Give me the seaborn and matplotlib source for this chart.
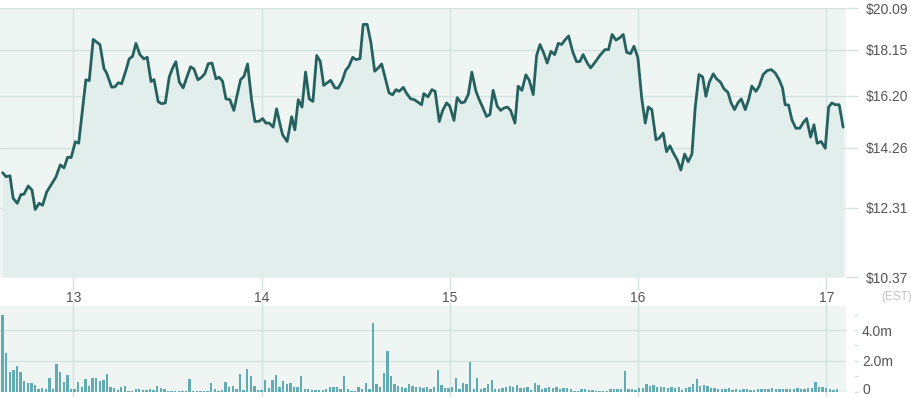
import matplotlib
matplotlib.use("Agg")
import matplotlib.pyplot as plt
import matplotlib.ticker as mticker
import matplotlib.transforms as mtrans
import numpy as np
import seaborn as sns

# price line: time in days, price in dollars
t_day = [12.625, 12.643, 12.664, 12.681, 12.703, 12.722, 12.738, 12.761, 12.781, 12.798,
         12.819, 12.837, 12.859, 12.908, 12.931, 12.951, 12.970, 12.989, 13.011, 13.029,
         13.067, 13.085, 13.106, 13.142, 13.163, 13.177, 13.204, 13.221, 13.239, 13.257,
         13.278, 13.297, 13.315, 13.333, 13.354, 13.375, 13.393, 13.413, 13.429, 13.451,
         13.469, 13.489, 13.510, 13.528, 13.545, 13.563, 13.584, 13.602, 13.623, 13.641,
         13.662, 13.682, 13.699, 13.717, 13.737, 13.758, 13.775, 13.793, 13.811, 13.832,
         13.853, 13.871, 13.889, 13.907, 13.926, 13.947, 13.965, 13.988, 14.006, 14.023,
         14.041, 14.062, 14.080, 14.101, 14.112, 14.136, 14.160, 14.177, 14.195, 14.215,
         14.234, 14.253, 14.273, 14.293, 14.312, 14.330, 14.349, 14.367, 14.390, 14.407,
         14.427, 14.447, 14.464, 14.484, 14.501, 14.523, 14.540, 14.561, 14.581, 14.601,
         14.620, 14.638, 14.657, 14.677, 14.696, 14.714, 14.731, 14.753, 14.771, 14.792,
         14.811, 14.832, 14.850, 14.862, 14.884, 14.905, 14.922, 14.944, 14.962, 14.983,
         15.000, 15.022, 15.039, 15.061, 15.079, 15.098, 15.117, 15.139, 15.156, 15.174,
         15.195, 15.213, 15.230, 15.252, 15.270, 15.287, 15.305, 15.323, 15.346, 15.363,
         15.383, 15.404, 15.422, 15.443, 15.461, 15.479, 15.500, 15.517, 15.537, 15.557,
         15.576, 15.594, 15.611, 15.631, 15.652, 15.673, 15.691, 15.708, 15.730, 15.748,
         15.771, 15.797, 15.824, 15.843, 15.862, 15.882, 15.903, 15.921, 15.939, 15.960,
         15.978, 15.999, 16.019, 16.038, 16.054, 16.073, 16.095, 16.112, 16.133, 16.151,
         16.169, 16.186, 16.208, 16.227, 16.247, 16.266, 16.286, 16.303, 16.323, 16.343,
         16.360, 16.378, 16.399, 16.417, 16.438, 16.456, 16.477, 16.494, 16.512, 16.530,
         16.548, 16.569, 16.587, 16.604, 16.626, 16.643, 16.664, 16.686, 16.707, 16.728,
         16.749, 16.767, 16.781, 16.799, 16.817, 16.838, 16.859, 16.877, 16.895, 16.916,
         16.934, 16.951, 16.972, 16.994, 17.012, 17.029, 17.047, 17.068, 17.089]

price = [13.41, 13.28, 13.31, 12.59, 12.44, 12.71, 12.72, 12.98, 12.85, 12.25,
         12.44, 12.38, 12.79, 13.27, 13.67, 13.57, 13.93, 13.92, 14.47, 14.42,
         16.85, 16.82, 18.61, 18.37, 17.33, 17.14, 16.55, 16.56, 16.73, 16.69,
         17.20, 17.74, 17.85, 18.43, 17.93, 17.74, 17.81, 16.78, 16.86, 15.97,
         15.89, 15.92, 16.97, 17.35, 17.62, 16.76, 16.52, 16.93, 17.40, 17.31,
         16.85, 16.96, 17.11, 17.53, 17.56, 16.89, 16.96, 16.79, 16.08, 16.05,
         15.63, 16.25, 16.86, 17.00, 17.52, 16.05, 15.21, 15.22, 15.32, 15.15,
         15.15, 15.00, 15.69, 15.02, 14.72, 14.48, 15.39, 14.90, 16.05, 15.76,
         17.18, 16.08, 15.98, 17.89, 17.63, 16.62, 16.73, 16.83, 16.52, 16.51,
         16.78, 17.25, 17.42, 17.81, 17.71, 17.75, 19.31, 19.31, 18.46, 17.21,
         17.35, 17.52, 16.93, 16.32, 16.24, 16.45, 16.38, 16.54, 16.29, 16.08,
         16.05, 15.94, 15.85, 16.29, 16.16, 16.45, 16.38, 15.21, 15.63, 15.92,
         15.79, 15.25, 16.13, 15.92, 15.96, 16.25, 17.17, 16.38, 16.05, 15.76,
         15.40, 15.47, 16.42, 15.79, 15.63, 15.72, 15.76, 15.63, 15.15, 16.59,
         16.42, 17.06, 16.83, 16.25, 17.89, 18.38, 17.97, 17.56, 18.07, 17.93,
         18.43, 18.38, 18.58, 18.77, 18.07, 17.62, 17.63, 17.93, 17.56, 17.35,
         17.59, 17.89, 18.15, 18.15, 18.84, 18.58, 18.69, 18.84, 18.03, 17.97,
         18.30, 17.79, 16.12, 15.15, 15.76, 15.66, 14.54, 14.60, 14.78, 14.12,
         14.33, 14.09, 13.84, 13.50, 14.04, 13.78, 14.04, 15.72, 17.07, 16.97,
         16.18, 16.75, 17.10, 16.89, 16.75, 16.48, 16.34, 15.92, 15.66, 15.92,
         16.08, 15.66, 16.05, 16.59, 16.38, 16.59, 17.07, 17.24, 17.28, 17.14,
         16.86, 16.52, 15.85, 15.84, 15.27, 14.96, 14.96, 15.17, 15.32, 14.64,
         15.09, 14.42, 14.48, 14.24, 15.76, 15.92, 15.85, 15.85, 15.00]

# volume bars (millions), regular interval from first to last bar
vol_first, vol_last = 12.625, 17.056
vol_m = [4.95, 2.52, 1.25, 1.40, 1.66, 1.27, 0.69, 0.54, 0.54, 0.43,
         0.19, 0.22, 0.17, 0.86, 0.17, 1.81, 1.27, 0.62, 1.05, 0.15,
         0.15, 0.60, 0.32, 0.82, 0.37, 0.88, 0.88, 0.69, 0.75, 1.16,
         0.28, 0.24, 0.13, 0.30, 0.37, 0.04, 0.06, 0.19, 0.17, 0.11,
         0.11, 0.15, 0.11, 0.39, 0.22, 0.15, 0.06, 0.04, 0.06, 0.06,
         0.06, 0.06, 0.80, 0.04, 0.06, 0.06, 0.06, 0.06, 0.54, 0.17,
         0.06, 0.11, 0.60, 0.32, 0.34, 0.15, 1.14, 0.11, 1.48, 1.01,
         0.39, 0.11, 0.11, 0.75, 0.22, 0.75, 1.10, 0.32, 0.69, 0.47,
         0.58, 0.32, 0.32, 1.03, 0.19, 0.19, 0.09, 0.11, 0.11, 0.11,
         0.19, 0.28, 0.32, 0.28, 0.19, 1.01, 0.19, 0.06, 0.06, 0.28,
         0.19, 0.54, 0.15, 4.47, 0.47, 0.28, 1.18, 2.62, 1.01, 0.47,
         0.37, 0.28, 0.22, 0.47, 0.34, 0.32, 0.32, 0.24, 0.30, 0.19,
         0.32, 1.38, 0.41, 0.26, 0.26, 0.30,
         0.88, 0.19, 0.56, 0.49, 1.91, 0.17, 0.88, 0.17, 0.24, 0.49,
         0.75, 0.19, 0.19, 0.21, 0.28, 0.39, 0.32, 0.43, 0.21, 0.24,
         0.28, 0.11, 0.54, 0.41, 0.19, 0.21, 0.28, 0.21, 0.28, 0.19,
         0.21, 0.21, 0.15, 0.06, 0.06, 0.15, 0.15, 0.13, 0.09, 0.06,
         0.06, 0.06, 0.06, 0.15, 0.15, 0.15, 0.17, 1.35, 0.17, 0.17,
         0.13, 0.24, 0.24, 0.52, 0.39, 0.41, 0.32, 0.32, 0.32, 0.26,
         0.28, 0.24, 0.30, 0.13, 0.21, 0.28, 0.49, 0.82, 0.39, 0.41,
         0.34, 0.24, 0.21, 0.17, 0.19, 0.19, 0.21, 0.11, 0.17, 0.13,
         0.15, 0.15, 0.13, 0.13, 0.17, 0.15, 0.17, 0.19, 0.24, 0.17,
         0.19, 0.17, 0.17, 0.19, 0.17, 0.21, 0.17, 0.17, 0.24, 0.21,
         0.60, 0.32, 0.30, 0.21, 0.17, 0.13, 0.15]

day_ticks = [13, 14, 15, 16, 17]
price_ticks = [10.37, 12.31, 14.26, 16.20, 18.15, 20.09]
vol_ticks = [0, 2, 4]
vol_labels = ['0', '2.0m', '4.0m']
vol_minor = [1, 3, 5]

sns.set_theme(style="white")
plt.rcParams['font.family'] = ['Liberation Sans', 'DejaVu Sans']

bg = '#eff5f2'
fill_c = '#e2eeec'
grid_c = '#d3e2de'
line_c = '#25615f'
bar_c = '#62abb2'
text_c = '#555555'

fig = plt.figure(figsize=(9.12, 3.97), dpi=100)
ax = fig.add_axes([0, 0.3015, 0.9276, 0.6776])
ax2 = fig.add_axes([0, 0.0134, 0.9276, 0.2166])

x0, x1 = 12.611, 17.104

# price panel
ax.set_facecolor(bg)
ax.set_yscale('log')
ax.fill_between(t_day, price, 10.37, color=fill_c, lw=0, zorder=1)
sns.lineplot(x=t_day, y=price, ax=ax, color=line_c, lw=2, zorder=3)
ax.set_xlim(x0, x1)
ax.set_ylim(10.37, 20.09)
ax.yaxis.tick_right()
ax.set_yticks(price_ticks)
ax.yaxis.set_minor_locator(mticker.NullLocator())
ax.yaxis.set_major_formatter(mticker.FuncFormatter(lambda v, p: f'${v:.2f}'))
ax.set_xticks(day_ticks)
ax.set_xticklabels([str(d) for d in day_ticks])
ax.grid(True, color=grid_c, lw=1, zorder=0)
ax.tick_params(axis='y', which='major', right=True, left=False, length=8.6,
               width=1, color=grid_c, pad=5.8, labelsize=10, labelcolor=text_c)
ax.tick_params(axis='x', which='major', bottom=True, length=9.4, width=1,
               color=grid_c, pad=0.5, labelsize=10, labelcolor=text_c)
ax.set_xlabel('')
ax.set_ylabel('')
for s in ax.spines.values():
    s.set_visible(False)

# volume panel
vol_t = np.linspace(vol_first, vol_last, len(vol_m))
ax2.set_facecolor(bg)
ax2.bar(vol_t, vol_m, width=0.0125, color=bar_c, lw=0, zorder=3)
ax2.set_xlim(x0, x1)
ax2.set_ylim(0, 5.58)
ax2.yaxis.tick_right()
ax2.set_yticks(vol_ticks)
ax2.set_yticklabels(vol_labels)
ax2.set_yticks(vol_minor, minor=True)
ax2.set_xticks(day_ticks)
ax2.set_xticklabels([])
ax2.grid(True, which='major', color=grid_c, lw=1, zorder=0)
ax2.spines['right'].set_position(('outward', 5.8))
ax2.tick_params(axis='y', which='both', right=True, left=False, length=2.9,
                width=1, color=grid_c, pad=2.9, labelsize=10, labelcolor=text_c)
ax2.tick_params(axis='x', which='major', bottom=True, top=True, direction='inout',
                length=7, width=1, color=grid_c)
for s in ax2.spines.values():
    s.set_visible(False)

# lift the "0" label a little so it stays inside the picture
zero_lbl = ax2.get_yticklabels()[0]
zero_lbl.set_transform(zero_lbl.get_transform() +
                       mtrans.ScaledTranslation(0, 2.5 / 72, fig.dpi_scale_trans))

fig.text(881 / 912, 1 - 297 / 397, '(EST)', color='#c4c4c4', fontsize=8.5,
         ha='left', va='center')

fig.savefig('out.png', dpi=100, facecolor='white')
